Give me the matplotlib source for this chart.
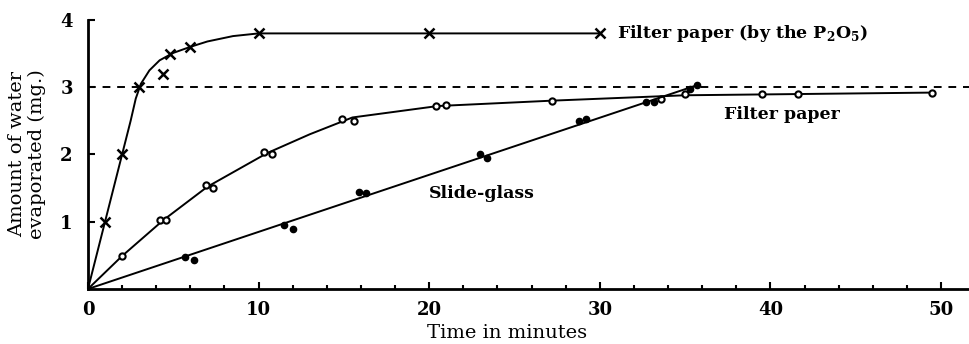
import numpy as np
import matplotlib
matplotlib.use("Agg")
import matplotlib.pyplot as plt

plt.rcParams['font.family'] = ['DejaVu Serif']
plt.rcParams['mathtext.fontset'] = 'custom'
plt.rcParams['mathtext.rm'] = 'DejaVu Serif:bold'
plt.rcParams['mathtext.bf'] = 'DejaVu Serif:bold'

# filter paper dried by P2O5 (x markers)
p2o5_t = [1, 2, 3, 4.4, 4.8, 6, 10, 20, 30]
p2o5_w = [1.0, 2.0, 3.0, 3.2, 3.5, 3.6, 3.8, 3.8, 3.8]
p2o5_curve_t = [0, 1, 2, 2.5, 2.8, 3.1, 3.6, 4.2, 5, 6, 7, 8.5, 10, 30]
p2o5_curve_w = [0, 1.0, 2.0, 2.5, 2.83, 3.05, 3.25, 3.4, 3.51, 3.6, 3.68,
                3.76, 3.8, 3.8]

# filter paper (open circles)
paper_t = [2.0, 4.2, 4.6, 6.9, 7.3, 10.3, 10.8, 14.9, 15.6, 20.4, 21.0,
           27.2, 33.6, 35.0, 39.5, 41.6, 49.5]
paper_w = [0.49, 1.02, 1.02, 1.54, 1.5, 2.03, 2.0, 2.52, 2.5, 2.72, 2.73,
           2.8, 2.82, 2.9, 2.9, 2.9, 2.92]
paper_curve_t = [0, 2, 4.4, 7, 10.5, 13, 15.5, 20.5, 27.2, 35, 49.5]
paper_curve_w = [0, 0.49, 1.02, 1.52, 2.02, 2.3, 2.55, 2.72, 2.8, 2.88, 2.92]

# slide-glass (filled dots)
glass_t = [5.7, 6.2, 11.5, 12.0, 15.9, 16.3, 23.0, 23.4, 28.8, 29.2,
           32.7, 33.2, 35.3, 35.7]
glass_w = [0.47, 0.43, 0.95, 0.89, 1.44, 1.42, 2.0, 1.94, 2.5, 2.52,
           2.78, 2.78, 2.98, 3.03]
glass_line_t = [0, 35.7]
glass_line_w = [0, 3.03]

fig = plt.figure(figsize=(9.7, 3.44), dpi=100)
ax = fig.add_axes([0.0907, 0.16, 0.9093, 0.782])

ax.axhline(3, color='black', lw=1.4, ls=(0, (4, 3.5)))

ax.plot(p2o5_curve_t, p2o5_curve_w, color='black', lw=1.4)
ax.plot(p2o5_t, p2o5_w, 'x', color='black', ms=7, mew=1.8)

ax.plot(paper_curve_t, paper_curve_w, color='black', lw=1.4)
ax.plot(paper_t, paper_w, 'o', mfc='white', mec='black', ms=4.5, mew=1.5)

ax.plot(glass_line_t, glass_line_w, color='black', lw=1.4)
ax.plot(glass_t, glass_w, 'o', color='black', ms=4.5)

ax.text(31, 3.8, r'Filter paper (by the P$_2$O$_5$)', fontsize=12.5,
        fontweight='bold', va='center', ha='left')
ax.text(37.3, 2.6, 'Filter paper', fontsize=12.5, fontweight='bold',
        va='center', ha='left')
ax.text(20.0, 1.42, 'Slide-glass', fontsize=12.5, fontweight='bold',
        va='center', ha='left')

ax.set_xlim(0, 51.7)
ax.set_ylim(0, 4)
ax.spines['top'].set_visible(False)
ax.spines['right'].set_visible(False)
ax.spines['left'].set_linewidth(2)
ax.spines['bottom'].set_linewidth(2)

ax.set_xticks([0, 10, 20, 30, 40, 50])
ax.set_xticks(np.arange(2, 52, 2), minor=True)
ax.set_yticks([1, 2, 3, 4])
ax.set_yticklabels(['1', '2', '3', '4'])
ax.tick_params(axis='both', which='major', direction='in', length=5, width=1.5,
               labelsize=13, pad=9)
ax.tick_params(axis='x', which='minor', direction='in', length=3, width=1.5)
for lab in ax.get_xticklabels() + ax.get_yticklabels():
    lab.set_fontweight('bold')
ax.yaxis.set_tick_params(pad=11)

ax.set_xlabel('Time in minutes', fontsize=14)
ax.xaxis.set_label_coords(0.475, -0.13)
ax.set_ylabel('Amount of water\nevaporated (mg.)', fontsize=14, labelpad=10,
              linespacing=1.15)

fig.savefig('out.png', dpi=100)
